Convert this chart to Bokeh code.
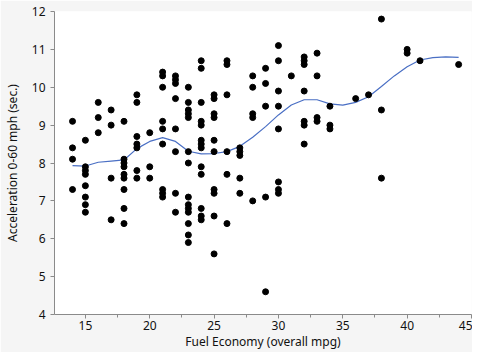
from bokeh.plotting import figure
from bokeh.models import Range1d, FixedTicker
from bokeh.embed import file_html
from bokeh.resources import INLINE

# Scatter data: fuel economy (mpg) vs acceleration 0-60 (sec)
mpg = [14, 14, 14, 14,
       15, 15, 15, 15, 15, 15, 15, 15,
       16, 16, 16,
       17, 17, 17, 17,
       18, 18, 18, 18, 18, 18, 18, 18, 18,
       19, 19, 19, 19, 19, 19, 19,
       20, 20, 20,
       21, 21, 21, 21, 21, 21, 21, 21, 21,
       22, 22, 22, 22, 22, 22, 22, 22,
       23, 23, 23, 23, 23, 23, 23, 23, 23, 23, 23, 23, 23, 23,
       24, 24, 24, 24, 24, 24, 24, 24, 24, 24, 24, 24, 24,
       25, 25, 25, 25, 25, 25, 25, 25, 25, 25,
       26, 26, 26, 26, 26, 26,
       27, 27, 27, 27, 27,
       28, 28, 28, 28, 28,
       29, 29, 29, 29, 29,
       30, 30, 30, 30, 30, 30, 30, 30,
       31,
       32, 32, 32, 32, 32, 32, 32,
       33, 33, 33, 33,
       34, 34, 34,
       36, 37,
       38, 38, 38,
       40, 40, 41, 44]
accel = [9.1, 8.4, 8.1, 7.3,
         8.6, 7.9, 7.8, 7.7, 7.4, 7.1, 6.9, 6.7,
         9.6, 9.2, 8.8,
         9.4, 9.0, 7.6, 6.5,
         9.1, 8.1, 8.0, 7.9, 7.7, 7.6, 7.3, 6.8, 6.4,
         9.8, 9.6, 8.7, 8.5, 8.4, 7.8, 7.6,
         8.8, 7.9, 7.6,
         10.4, 10.3, 10.0, 9.1, 8.9, 8.5, 7.3, 7.2, 7.1,
         10.3, 10.2, 10.1, 9.7, 8.9, 8.3, 7.2, 6.7,
         10.0, 9.6, 9.4, 9.3, 9.2, 8.3, 8.0, 7.1, 6.9, 6.8, 6.7, 6.4, 6.1, 5.9,
         10.7, 10.5, 9.6, 9.1, 9.0, 8.6, 8.5, 8.4, 7.9, 7.7, 6.8, 6.6, 6.5,
         9.8, 9.7, 9.3, 9.2, 8.6, 8.3, 7.3, 7.2, 6.6, 5.6,
         10.7, 10.6, 9.8, 8.3, 7.7, 6.4,
         8.4, 8.3, 8.2, 7.6, 7.2,
         10.3, 10.0, 9.3, 9.2, 7.0,
         10.5, 10.1, 9.5, 7.1, 4.6,
         11.1, 10.7, 9.9, 9.5, 8.9, 7.5, 7.3, 7.2,
         10.3,
         10.8, 10.7, 10.6, 9.9, 9.1, 9.0, 8.5,
         10.9, 10.3, 9.2, 9.1,
         9.5, 9.0, 8.9,
         9.7, 9.8,
         11.8, 9.4, 7.6,
         11.0, 10.9, 10.7, 10.6]

# Smoothing curve
curve_x = list(range(14, 45))
curve_y = [7.93, 7.92, 8.02, 8.05, 8.08, 8.38, 8.57, 8.67, 8.57, 8.31,
           8.24, 8.25, 8.30, 8.44, 8.68, 8.96, 9.27, 9.53, 9.67, 9.67,
           9.56, 9.53, 9.60, 9.75, 10.02, 10.30, 10.54, 10.72, 10.78, 10.80,
           10.79]

x_ticks = [15, 20, 25, 30, 35, 40, 45]
x_minor = [17.5, 22.5, 27.5, 32.5, 37.5, 42.5]
y_ticks = [4, 5, 6, 7, 8, 9, 10, 11, 12]

p = figure(width=472, height=352, x_range=Range1d(12.6, 45), y_range=Range1d(4, 12),
           output_backend="svg", toolbar_location=None,
           min_border_left=52, min_border_right=1, min_border_top=11, min_border_bottom=36)
p.border_fill_color = "#f5f5f5"
p.background_fill_color = "white"
p.outline_line_color = None
p.xgrid.visible = False
p.ygrid.visible = False

font = "Noto Sans"
for ax in (p.xaxis[0], p.yaxis[0]):
    ax.axis_line_color = "#8a8a8a"
    ax.major_tick_line_color = "#8a8a8a"
    ax.minor_tick_line_color = "#8a8a8a"
    ax.major_tick_in = 0
    ax.major_tick_out = 4
    ax.minor_tick_in = 0
    ax.minor_tick_out = 3
    ax.major_label_text_font = font
    ax.major_label_text_font_size = "12px"
    ax.major_label_text_color = "#111111"
    ax.axis_label_text_font = font
    ax.axis_label_text_font_size = "12px"
    ax.axis_label_text_font_style = "normal"
    ax.axis_label_text_color = "#111111"

p.xaxis.ticker = FixedTicker(ticks=x_ticks, minor_ticks=x_minor)
p.yaxis.ticker = FixedTicker(ticks=y_ticks, minor_ticks=[])
p.xaxis.axis_label = "Fuel Economy (overall mpg)"
p.yaxis.axis_label = "Acceleration 0-60 mph (sec.)"
p.xaxis.major_label_standoff = 2
p.yaxis.major_label_standoff = 5
p.xaxis.axis_label_standoff = 0
p.yaxis.axis_label_standoff = 8

p.line(curve_x, curve_y, line_color="#4a6fc4", line_width=1.2)
p.scatter(mpg, accel, size=6, fill_color="black", line_color="black")

open("out.html", "w").write(file_html(p, INLINE))
